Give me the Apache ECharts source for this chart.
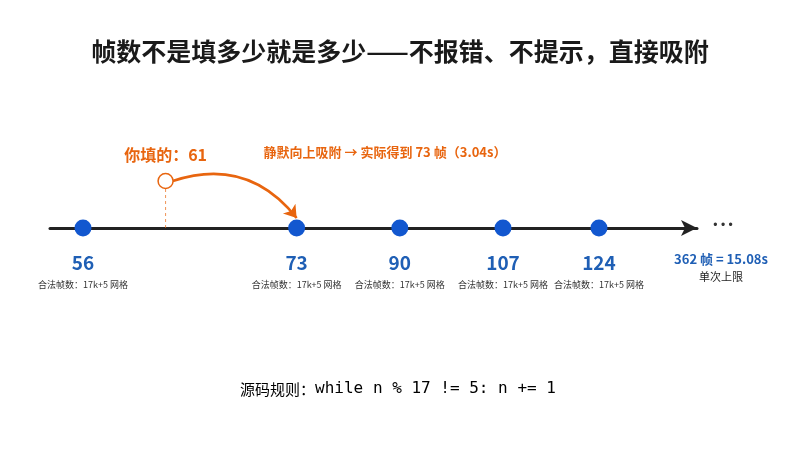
<!DOCTYPE html><html><head><meta charset="utf-8">
<script src="https://cdn.jsdelivr.net/npm/echarts@6/dist/echarts.min.js"></script>
<style>html,body{margin:0;background:#fff}#c{width:800px;height:450px}</style></head><body><div id="c"></div>
<script>
const frames=[56,73,90,107,124];
const slots=[0,2.07,3.07,4.07,5];
const noteLabel='合法帧数：17k+5 网格';
const inputFrame=61, inputSlot=0.8;
const snapText='静默向上吸附 → 实际得到 73 帧（3.04s）';
const limitText='362 帧 = 15.08s';
const title='帧数不是填多少就是多少——不报错、不提示，直接吸附';
const CJK='"Noto Sans CJK SC","Noto Sans",sans-serif';
const orange='#e8650f', blue='#1257cf';
const ch=echarts.init(document.getElementById('c'));
ch.setOption({
 animation:false,
 title:{text:title,left:'center',top:34,textStyle:{fontFamily:CJK,fontSize:25,fontWeight:'bold',color:'#1a1a1a'}},
 grid:{left:50,right:103,top:128,bottom:122},
 xAxis:{type:'value',min:-0.32,max:5.95,axisLine:{lineStyle:{color:'#222',width:3},symbol:['none','arrow'],symbolSize:[12,16]},axisTick:{show:false},axisLabel:{show:false},splitLine:{show:false}},
 yAxis:{type:'value',min:-1,max:1,show:false},
 series:[
  {type:'scatter',symbolSize:17,itemStyle:{color:blue,opacity:1},data:slots.map((s,i)=>[s,0,frames[i]]),z:5,
   label:{show:true,position:'bottom',distance:12,formatter:p=>'{n|'+p.data[2]+'}\n{s|'+noteLabel+'}',
    rich:{n:{fontSize:19,fontWeight:'bold',color:'#1f5fb5',fontFamily:CJK,lineHeight:28},s:{fontSize:9,color:'#333',fontFamily:CJK,lineHeight:16}}}},
  {type:'line',data:[[inputSlot,0],[inputSlot,0.47]],symbol:'none',lineStyle:{color:orange,type:[3,3],width:1,opacity:0.7}},
  {type:'scatter',symbolSize:15,itemStyle:{color:'#fff',borderColor:orange,borderWidth:1.5,opacity:1},data:[[inputSlot,0.47,inputFrame]],z:6,
   label:{show:true,position:'top',distance:10,formatter:p=>'你填的：'+p.data[2],fontSize:16,fontWeight:'bold',color:orange,fontFamily:CJK}},
  {type:'lines',coordinateSystem:'cartesian2d',z:4,symbol:['none','arrow'],symbolSize:12,
   lineStyle:{color:orange,width:2.5,curveness:0.35,opacity:1},data:[{coords:[[inputSlot+0.07,0.47],[2.07,0.1]]}]}
 ],
 graphic:[
  {type:'text',x:385,y:152,style:{text:snapText,align:'center',verticalAlign:'middle',fontSize:13,fontWeight:'bold',fill:orange,fontFamily:CJK}},
  {type:'text',x:723,y:226,style:{text:'• • •',align:'center',verticalAlign:'middle',fontSize:12,fill:'#333'}},
  {type:'text',x:721,y:259,style:{text:limitText,align:'center',verticalAlign:'middle',fontSize:13,fontWeight:'bold',fill:'#1f5fb5',fontFamily:CJK}},
  {type:'text',x:721,y:277,style:{text:'单次上限',align:'center',verticalAlign:'middle',fontSize:11,fill:'#222',fontFamily:CJK}},
  {type:'text',x:398,y:389,style:{text:'{a|源码规则：}{b|while n % 17 != 5: n += 1}',align:'center',verticalAlign:'middle',
   rich:{a:{fontSize:15,fontFamily:CJK,color:'#111'},b:{fontSize:16,fontFamily:'"DejaVu Sans Mono",monospace',color:'#111'}}}}
 ]
});
</script></body></html>
